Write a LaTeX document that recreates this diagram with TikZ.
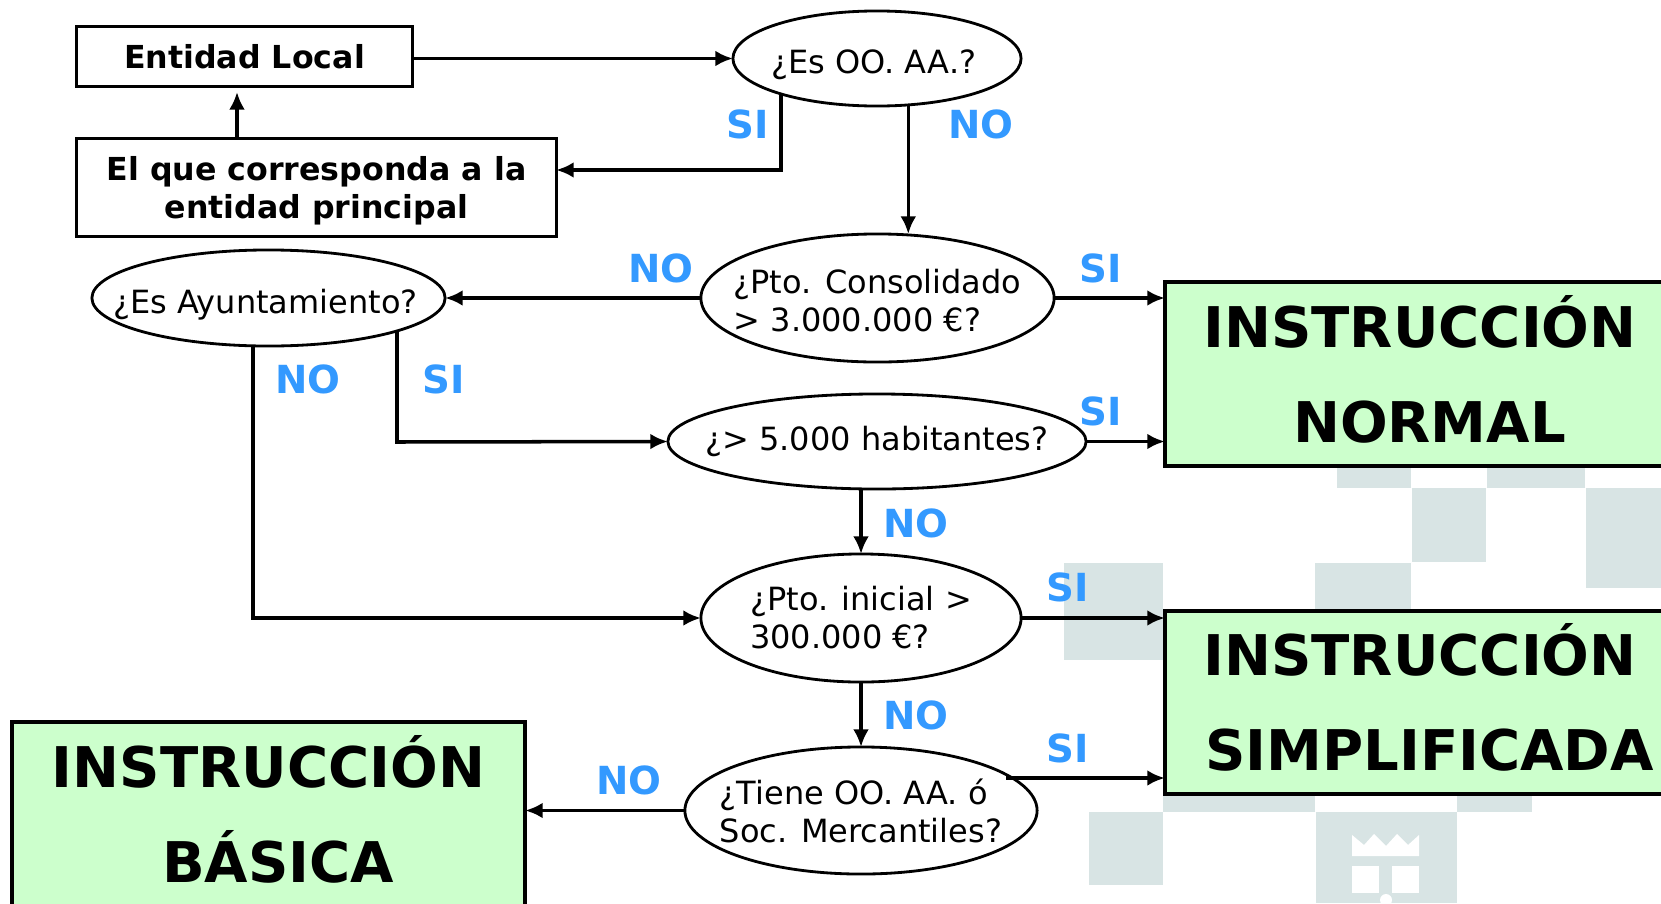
\documentclass[tikz,border=0pt]{standalone}
\usepackage{fontspec}
\setmainfont{DejaVu Sans}
\usetikzlibrary{shapes.geometric,arrows.meta}
\definecolor{verde}{HTML}{CCFFCC}
\definecolor{azul}{HTML}{3399FF}
\definecolor{fondo}{HTML}{D8E4E4}
\tikzset{
 caja/.style={draw, line width=0.8pt, inner sep=0pt, outer sep=0pt, align=center, font=\fontsize{9}{10.8}\selectfont\bfseries},
 elipse/.style={draw, fill=white, ellipse, line width=0.8pt, inner xsep=-1.5cm, inner ysep=-0.6cm, outer sep=0pt, align=left, font=\fontsize{9.1}{10.8}\selectfont},
 final/.style={draw, fill=verde, line width=1.2pt, inner sep=0pt, outer sep=0pt, align=center, font=\fontsize{15.95}{27}\selectfont\bfseries},
 resp/.style={text=azul, inner sep=0pt, font=\fontsize{11}{12}\selectfont\bfseries},
 flecha/.style={line width=1pt, -{Latex[length=5pt,width=4.5pt]}},
 cuadro/.style={fill=fondo, draw=none}
}
\begin{document}
\begin{tikzpicture}[x=0.01cm, y=-0.01cm]
 \useasboundingbox (0,0) rectangle (1661,903);
 \clip (0,0) rectangle (1661,903);

 \fill[cuadro] (1337,440) rectangle (1411,488);
 \fill[cuadro] (1487,440) rectangle (1585,488);
 \fill[cuadro] (1412,488) rectangle (1486,562);
 \fill[cuadro] (1586,488) rectangle (1661,588);
 \fill[cuadro] (1064,563) rectangle (1163,660);
 \fill[cuadro] (1315,563) rectangle (1411,620);
 \fill[cuadro] (1163,780) rectangle (1315,812);
 \fill[cuadro] (1457,780) rectangle (1532,812);
 \fill[cuadro] (1089,812) rectangle (1163,885);
 \fill[cuadro] (1316,812) rectangle (1457,903);
 \fill[white] (1352,856) -- (1352,835) -- (1364,845) -- (1374,834) -- (1386,846) -- (1397,834) -- (1408,845) -- (1419,835) -- (1419,856) -- cycle;
 \fill[white] (1352,866) rectangle (1379,893);
 \fill[white] (1392,866) rectangle (1419,893);
 \fill[white] (1386,900) circle (6);

 \node[caja, minimum width=3.35cm, minimum height=0.60cm] (EL) at (244.5,56.5) {Entidad Local};
 \node[caja, minimum width=4.79cm, minimum height=0.98cm] (EP) at (316.5,187.5) {\rule{0pt}{8.6pt}El que corresponda a la\\entidad principal};
 \node[elipse, minimum width=2.88cm, minimum height=0.95cm] (OA) at (877,58.5) {\rule{0pt}{10.5pt}¿Es OO. AA.?\hspace*{1.8pt}};
 \node[elipse, minimum width=3.53cm, minimum height=1.28cm] (PC) at (877.5,298) {\rule{0pt}{8.6pt}¿Pto. Consolidado\\> 3.000.000 €?};
 \node[elipse, minimum width=3.53cm, minimum height=0.96cm] (EA) at (268.5,298) {\rule{0pt}{10.5pt}¿Es Ayuntamiento?\hspace*{1.8pt}};
 \node[elipse, minimum width=4.18cm, minimum height=0.95cm] (HB) at (877,441.5) {¿> 5.000 habitantes?};
 \node[elipse, minimum width=3.20cm, minimum height=1.28cm] (PI) at (861,618) {¿Pto. inicial >\\300.000 €?};
 \node[elipse, minimum width=3.52cm, minimum height=1.27cm] (TO) at (861,810.5) {¿Tiene OO. AA. ó\\Soc. Mercantiles?};
 \node[final, minimum width=5.10cm, minimum height=1.84cm] (IN) at (1420,374) {INSTRUCCIÓN\\\hspace*{0.34em}NORMAL\rule[-3pt]{0pt}{0pt}};
 \node[final, minimum width=5.10cm, minimum height=1.83cm] (IS) at (1420,702.5) {INSTRUCCIÓN\\\hspace*{0.34em}SIMPLIFICADA\rule[-3pt]{0pt}{0pt}};
 \node[final, minimum width=5.13cm, minimum height=1.84cm] (IB) at (268.5,814) {INSTRUCCIÓN\\\hspace*{0.34em}BÁSICA\rule[-3pt]{0pt}{0pt}};

 \coordinate (c1) at (781,170);
 \coordinate (c2) at (397,442);
 \coordinate (c3) at (253,618);
 \coordinate (c4) at (1006,778);
 \coordinate (c5) at (237,92);

 \draw[flecha] (EL.east |- OA.west) -- (OA.west);
 \draw[flecha] (EP.north -| c5) -- (c5);
 \draw[flecha] (OA.200 -| c1) -- (c1) -- (EP.east |- c1);
 \draw[flecha] (OA.304.7) -- (OA.304.7 |- PC.north);
 \draw[flecha] (PC.west) -- (EA.east);
 \draw[flecha] (PC.east) -- (IN.west |- PC.east);
 \draw[flecha] (EA.345 -| c2) -- (c2) -- (HB.west);
 \draw[flecha] (EA.south -| c3) -- (c3) -- (PI.west);
 \draw[flecha] (HB.east) -- (IN.west |- HB.east);
 \draw[flecha] (HB.south -| PI.north) -- (PI.north);
 \draw[flecha] (PI.east) -- (IS.west |- PI.east);
 \draw[flecha] (PI.south) -- (TO.north);
 \draw[flecha] (c4) -- (IS.west |- c4);
 \draw[flecha] (TO.west) -- (IB.east |- TO.west);

 \node[resp] (si1) at (748,124) {SI};
 \node[resp] (no1) at (981,124) {NO};
 \node[resp] (no2) at (661,268) {NO};
 \node[resp] (si2) at (1100.6,268) {SI};
 \node[resp] (no3) at (308,379) {NO};
 \node[resp] (si3) at (444,379) {SI};
 \node[resp] (si4) at (1100.6,411) {SI};
 \node[resp] (no4) at (916,523) {NO};
 \node[resp] (si5) at (1068,587) {SI};
 \node[resp] (no5) at (916,715) {NO};
 \node[resp] (si6) at (1068,748) {SI};
 \node[resp] (no6) at (629,780) {NO};
\end{tikzpicture}
\end{document}
